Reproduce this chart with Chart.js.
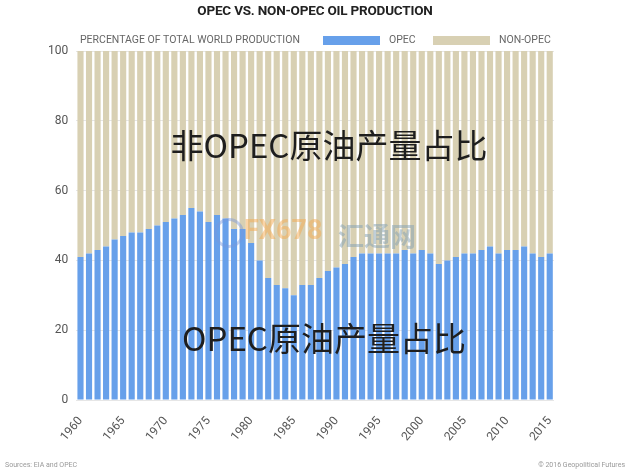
<!DOCTYPE html>
<html>
<head>
<meta charset="utf-8">
<script src="https://cdn.jsdelivr.net/npm/chart.js@4/dist/chart.umd.min.js"></script>
<style>
  body{margin:0;background:#fff;}
  #wrap{position:relative;width:630px;height:473px;overflow:hidden;}
  .ov{position:absolute;white-space:nowrap;}
  .cn{font-family:"Noto Sans CJK SC",sans-serif;font-size:33px;color:#1e1e1e;transform:translateX(-50%);}
  .foot{font-family:Roboto,sans-serif;font-size:7px;color:#999;}
  .sub{font-family:Roboto,sans-serif;font-size:10.5px;color:#666;}
  .title{font-family:Roboto,sans-serif;font-size:13.5px;font-weight:bold;color:#222;left:315px;transform:translateX(-50%);top:2px;letter-spacing:-0.2px;}
  .box{position:absolute;width:57px;height:9px;}
</style>
</head>
<body>
<div id="wrap">
  <canvas id="chart" width="630" height="473"></canvas>
  <div class="ov title">OPEC VS. NON-OPEC OIL PRODUCTION</div>
  <div class="ov sub" style="left:80px;top:33px;">PERCENTAGE OF TOTAL WORLD PRODUCTION</div>
  <div class="box" style="left:323px;top:36px;background:#67a0ea;"></div>
  <div class="ov sub" style="left:389px;top:33px;">OPEC</div>
  <div class="box" style="left:433px;top:36px;background:#d8d0b3;"></div>
  <div class="ov sub" style="left:499px;top:33px;">NON-OPEC</div>
  <div class="ov" style="left:214px;top:218px;width:24px;height:24px;border-radius:50%;border:3px solid rgba(120,150,220,0.45);"></div>
  <div class="ov" style="left:244px;top:214px;font:bold 27px Roboto,sans-serif;color:rgba(245,170,80,0.5);">FX678</div>
  <div class="ov" style="left:338px;top:216px;font:bold 26px 'Noto Sans CJK SC',sans-serif;color:rgba(130,160,180,0.5);">汇通网</div>
  <div class="ov cn" style="left:329px;top:120px;">非OPEC原油产量占比</div>
  <div class="ov cn" style="left:324px;top:313px;">OPEC原油产量占比</div>
  <div class="ov foot" style="left:5px;top:461px;">Sources: EIA and OPEC</div>
  <div class="ov foot" style="right:5px;top:461px;">© 2016 Geopolitical Futures</div>
</div>
<script>
// -------- 資料 --------
const years = [];
for(let y=1960;y<=2015;y++) years.push(String(y));

const opecShare = [
  41,42,43,44,46,47,48,48,49,50,
  51,52,53,55,54,51,53,52,49,49,
  45,40,35,33,32,30,33,33,35,37,
  38,39,41,42,42,42,42,42,43,42,
  43,42,39,40,41,42,42,43,44,42,
  43,43,44,42,41,42
];
const nonOpecShare = [
  59,58,57,56,54,53,52,52,51,50,
  49,48,47,45,46,49,47,48,51,51,
  55,60,65,67,68,70,67,67,65,63,
  62,61,59,58,58,58,58,58,57,58,
  57,58,61,60,59,58,58,57,56,58,
  57,57,56,58,59,58
];
const yTicks = [0,20,40,60,80,100];

const blue = '#67a0ea';
const beige = '#d8d0b3';
const font = "Roboto, sans-serif";

new Chart(document.getElementById('chart'),{
    type:'bar',
    data:{
        labels:years,
        datasets:[
            {label:'OPEC', data:opecShare, backgroundColor:blue, barPercentage:0.72, categoryPercentage:1},
            {label:'NON-OPEC', data:nonOpecShare, backgroundColor:beige, barPercentage:0.72, categoryPercentage:1}
        ]
    },
    options:{
        responsive:false,
        animation:false,
        layout:{padding:{left:40,right:76,top:51,bottom:23}},
        plugins:{
            title:{display:false},
            legend:{display:false},
            tooltip:{enabled:false}
        },
        scales:{
            x:{
                stacked:true,
                grid:{display:false},
                border:{display:false},
                ticks:{
                    autoSkip:false,
                    maxRotation:50, minRotation:50,
                    padding:6,
                    color:'#555',
                    font:{family:font, size:12},
                    callback:function(v,i){ let y=years[i]; return (+y%5===0)?y:''; }
                }
            },
            y:{
                stacked:true,
                min:0, max:100,
                afterBuildTicks:function(axis){ axis.ticks = yTicks.map(v=>({value:v})); },
                grid:{color:'#e6e6e6', drawTicks:false},
                border:{display:false},
                ticks:{color:'#555', font:{family:font, size:12}, padding:8}
            }
        }
    }
});
</script>
</body>
</html>
